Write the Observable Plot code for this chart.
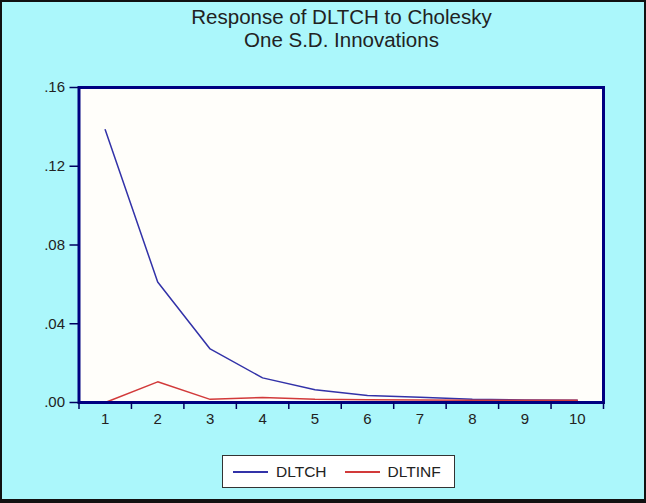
<!DOCTYPE html>
<html><head><meta charset="utf-8">
<script src="https://cdn.jsdelivr.net/npm/d3@7"></script>
<script src="https://cdn.jsdelivr.net/npm/@observablehq/plot@0.6"></script>
<style>
body{margin:0;}
#wrap{position:relative;width:646px;height:503px;background:#abf7fb;overflow:hidden;font-family:"Liberation Sans",Arial,sans-serif;color:#222;}
#title{position:absolute;left:80px;width:523px;top:5px;text-align:center;font-size:20.5px;line-height:23px;}
#chart{position:absolute;left:0;top:0;}
#chart svg text{font-size:15px !important;fill:#222;}
#legend{position:absolute;left:222px;top:455px;width:233px;height:33px;box-sizing:border-box;border:1.5px solid #333;background:#fff;font-size:15.5px;display:flex;align-items:center;}
#legend .sw{display:inline-block;width:35px;height:2px;margin-right:8px;}
#border{position:absolute;left:0;top:0;width:646px;height:503px;box-sizing:border-box;border:2px solid #111;border-bottom-width:4px;pointer-events:none;}
</style></head>
<body>
<div id="wrap">
  <div id="title"></div>
  <div id="chart"></div>
  <div id="legend"></div>
  <div id="border"></div>
</div>
<script>
const titleLines = ["Response of DLTCH to Cholesky", "One S.D. Innovations"];
const periods = [1, 2, 3, 4, 5, 6, 7, 8, 9, 10];
const dltch = [0.1385, 0.0612, 0.0272, 0.0125, 0.0065, 0.0035, 0.0027, 0.0016, 0.0013, 0.0011];
const dltinf = [0.0, 0.0105, 0.0016, 0.0026, 0.0017, 0.0014, 0.0013, 0.0012, 0.0012, 0.0012];
const yTicks = [0, 0.04, 0.08, 0.12, 0.16];
const yTickLabels = [".00", ".04", ".08", ".12", ".16"];
const seriesNames = ["DLTCH", "DLTINF"];
const seriesColors = ["#3232a8", "#d23a3a"];

document.getElementById("title").innerHTML = titleLines.map(t => `<div>${t}</div>`).join("");

const rows = periods.map((p, i) => ({period: p, dltch: dltch[i], dltinf: dltinf[i]}));
const bounds = periods.map(p => p - 0.5).concat([periods[periods.length - 1] + 0.5]);

const chart = Plot.plot({
  width: 646, height: 440,
  marginLeft: 78.5, marginRight: 43, marginTop: 87, marginBottom: 38,
  style: {background: "transparent", fontFamily: "Liberation Sans, Arial, sans-serif", fontSize: "15px", color: "#222"},
  x: {domain: [bounds[0], bounds[bounds.length - 1]], axis: null},
  y: {domain: [yTicks[0], yTicks[yTicks.length - 1]], axis: null},
  marks: [
    Plot.frame({fill: "#fffefa", stroke: null}),
    Plot.line(rows, {x: "period", y: "dltch", stroke: seriesColors[0], strokeWidth: 1.5}),
    Plot.line(rows, {x: "period", y: "dltinf", stroke: seriesColors[1], strokeWidth: 1.5}),
    Plot.frame({stroke: "#000080", strokeWidth: 3}),
    Plot.axisY({ticks: yTicks, tickFormat: d => yTickLabels[yTicks.indexOf(d)], tickSize: 9, stroke: "#000060", strokeWidth: 1.5, tickPadding: 5, label: null}),
    Plot.axisX({ticks: bounds, tickFormat: () => "", tickSize: 7, stroke: "#000060", strokeWidth: 1.5, label: null}),
    Plot.axisX({ticks: periods, tickSize: 0, tickPadding: 11, label: null})
  ]
});
document.getElementById("chart").appendChild(chart);

document.getElementById("legend").innerHTML = seriesNames.map((n, i) =>
  `<span class="sw" style="background:${seriesColors[i]};margin-left:${i ? 18 : 10}px"></span><span>${n}</span>`).join("");
</script>
</body></html>
